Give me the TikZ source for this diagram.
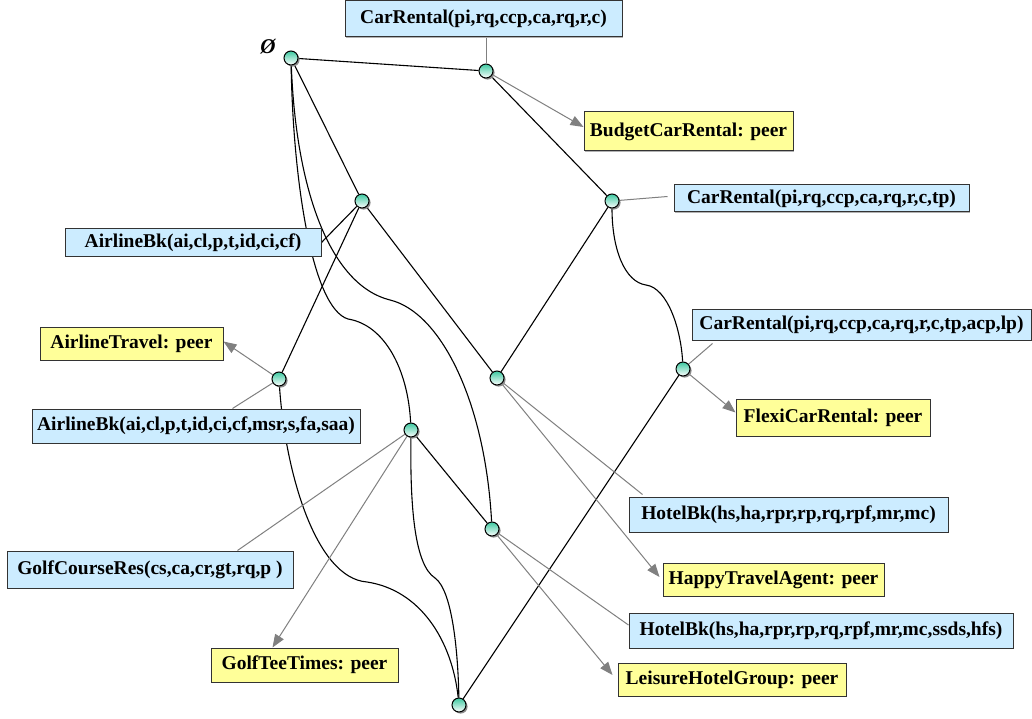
\documentclass[tikz,border=0pt]{standalone}
\usepackage{fontspec}
\setmainfont{Liberation Serif}
\usetikzlibrary{arrows.meta,shadows,backgrounds}
\definecolor{boxblue}{RGB}{204,236,255}
\definecolor{boxyellow}{RGB}{255,255,153}
\definecolor{dotgreen}{RGB}{60,200,160}
\definecolor{linkgray}{RGB}{128,128,128}
\begin{document}
\begin{tikzpicture}[x=1pt,y=-1pt,
  dot/.style={circle,draw=black,line width=1pt,minimum size=14pt,inner sep=0pt,
    top color=dotgreen,bottom color=white,
    drop shadow={shadow xshift=1.6pt,shadow yshift=-1.6pt,fill=black!45,opacity=1}},
  labbox/.style={draw=black!80,line width=1pt,inner sep=0pt,align=center,
    font=\fontsize{19.5}{22}\selectfont\rmfamily\bfseries,
    drop shadow={shadow xshift=1.2pt,shadow yshift=-1.2pt,fill=black!30,opacity=1}},
  bluebox/.style={labbox,fill=boxblue},
  yellowbox/.style={labbox,fill=boxyellow},
  edge/.style={draw=black,line width=1.1pt},
  lbl/.style={draw=linkgray,line width=1pt},
  arr/.style={lbl,-{Triangle[length=13pt,width=10pt]},color=linkgray}
]
\useasboundingbox (0,0) rectangle (1032,719);

% lattice points
\node[dot] (T)   at (291,58)  {};
\node[dot] (CR1) at (486,71)  {};
\node[dot] (A1)  at (362,201) {};
\node[dot] (CR2) at (612,201) {};
\node[dot] (AB2) at (279,379) {};
\node[dot] (H1)  at (497,378) {};
\node[dot] (CR3) at (683,369) {};
\node[dot] (G)   at (411,430) {};
\node[dot] (H2)  at (492,529) {};
\node[dot] (B)   at (459,705) {};
\node[font=\fontsize{21}{22}\selectfont\rmfamily\bfseries\itshape] (emptyset) at (268,47) {Ø};

% label boxes
\node[bluebox,minimum width=277pt,minimum height=36pt] (cr1lab) at (483.5,19) {CarRental(pi,rq,ccp,ca,rq,r,c)};
\node[yellowbox,minimum width=209pt,minimum height=39pt] (budget) at (688.5,131.5) {BudgetCarRental: peer};
\node[bluebox,minimum width=295pt,minimum height=27pt] (cr2lab) at (821.5,198.5) {CarRental(pi,rq,ccp,ca,rq,r,c,tp)};
\node[bluebox,minimum width=256pt,minimum height=27pt] (ab1lab) at (193,242.5) {AirlineBk(ai,cl,p,t,id,ci,cf)};
\node[bluebox,minimum width=339pt,minimum height=31pt] (cr3lab) at (861.5,324.5) {CarRental(pi,rq,ccp,ca,rq,r,c,tp,acp,lp)};
\node[yellowbox,minimum width=183pt,minimum height=33pt] (atravel) at (131.5,343.5) {AirlineTravel: peer};
\node[bluebox,minimum width=328pt,minimum height=34pt] (ab2lab) at (196,426) {AirlineBk(ai,cl,p,t,id,ci,cf,msr,s,fa,saa)};
\node[yellowbox,minimum width=194pt,minimum height=37pt] (flexi) at (833,417.5) {FlexiCarRental: peer};
\node[bluebox,minimum width=319pt,minimum height=35pt] (hotel1) at (788.5,514.5) {HotelBk(hs,ha,rpr,rp,rq,rpf,mr,mc)};
\node[bluebox,minimum width=286pt,minimum height=37pt] (golfres) at (150,569.5) {GolfCourseRes(cs,ca,cr,gt,rq,p )};
\node[yellowbox,minimum width=221pt,minimum height=33pt] (happy) at (773.5,579.5) {HappyTravelAgent: peer};
\node[bluebox,minimum width=384pt,minimum height=35pt] (hotel2) at (821,630.5) {HotelBk(hs,ha,rpr,rp,rq,rpf,mr,mc,ssds,hfs)};
\node[yellowbox,minimum width=187pt,minimum height=34pt] (golftee) at (304.5,665) {GolfTeeTimes: peer};
\node[yellowbox,minimum width=228pt,minimum height=33pt] (leisure) at (732,679.5) {LeisureHotelGroup: peer};

\begin{scope}[on background layer]
\fill[white] (0,0) rectangle (1032,719);
% lattice edges
\draw[edge] (T) -- (CR1);
\draw[edge] (CR1) -- (CR2);
\draw[edge] (T) -- (A1);
\draw[edge] (A1) -- (AB2);
\draw[edge] (A1) -- (H1);
\draw[edge] (CR2) -- (H1);
\draw[edge] (G) -- (H2);
\draw[edge] (CR3) -- (B);
\draw[edge] (A1) -- (ab1lab.east);
\draw[edge] (T) .. controls (293,180) and (312,308) .. (348,319)
                .. controls (385,325) and (408,370) .. (G);
\draw[edge] (T) .. controls (296,190) and (330,285) .. (390,300)
                .. controls (440,312) and (485,400) .. (H2);
\draw[edge] (AB2) .. controls (285,470) and (315,578) .. (367,582)
                  .. controls (420,590) and (452,640) .. (B);
\draw[edge] (G) .. controls (410,510) and (415,565) .. (435,578)
                .. controls (452,590) and (458,650) .. (B);
\draw[edge] (CR2) .. controls (612,250) and (625,282) .. (646,285)
                  .. controls (668,288) and (681,330) .. (CR3);
% label connectors
\draw[lbl] (cr1lab.south -| CR1) -- (CR1);
\draw[arr] (CR1) -- ([yshift=4.5pt]budget.west);
\draw[lbl] (CR2) -- ([xshift=-6pt,yshift=2pt]cr2lab.west);
\draw[lbl] (CR3) -- ([xshift=21pt,yshift=-3pt]cr3lab.south west);
\draw[arr] (CR3) -- ([yshift=5pt]flexi.west);
\draw[arr] (AB2) -- ([yshift=2pt]atravel.east);
\draw[lbl] (AB2) -- ([xshift=201pt]ab2lab.north west);
\draw[lbl] (G) -- ([xshift=231pt]golfres.north west);
\draw[arr] (G) -- ([xshift=62pt]golftee.north west);
\draw[lbl] (H1) -- ([xshift=14pt,yshift=2pt]hotel1.north west);
\draw[arr] (H1) -- ([xshift=-3pt,yshift=2.5pt]happy.west);
\draw[lbl] (H2) -- ([yshift=5.5pt]hotel2.west);
\draw[arr] (H2) -- ([xshift=-5pt,yshift=4.5pt]leisure.west);
\end{scope}
\end{tikzpicture}
\end{document}
